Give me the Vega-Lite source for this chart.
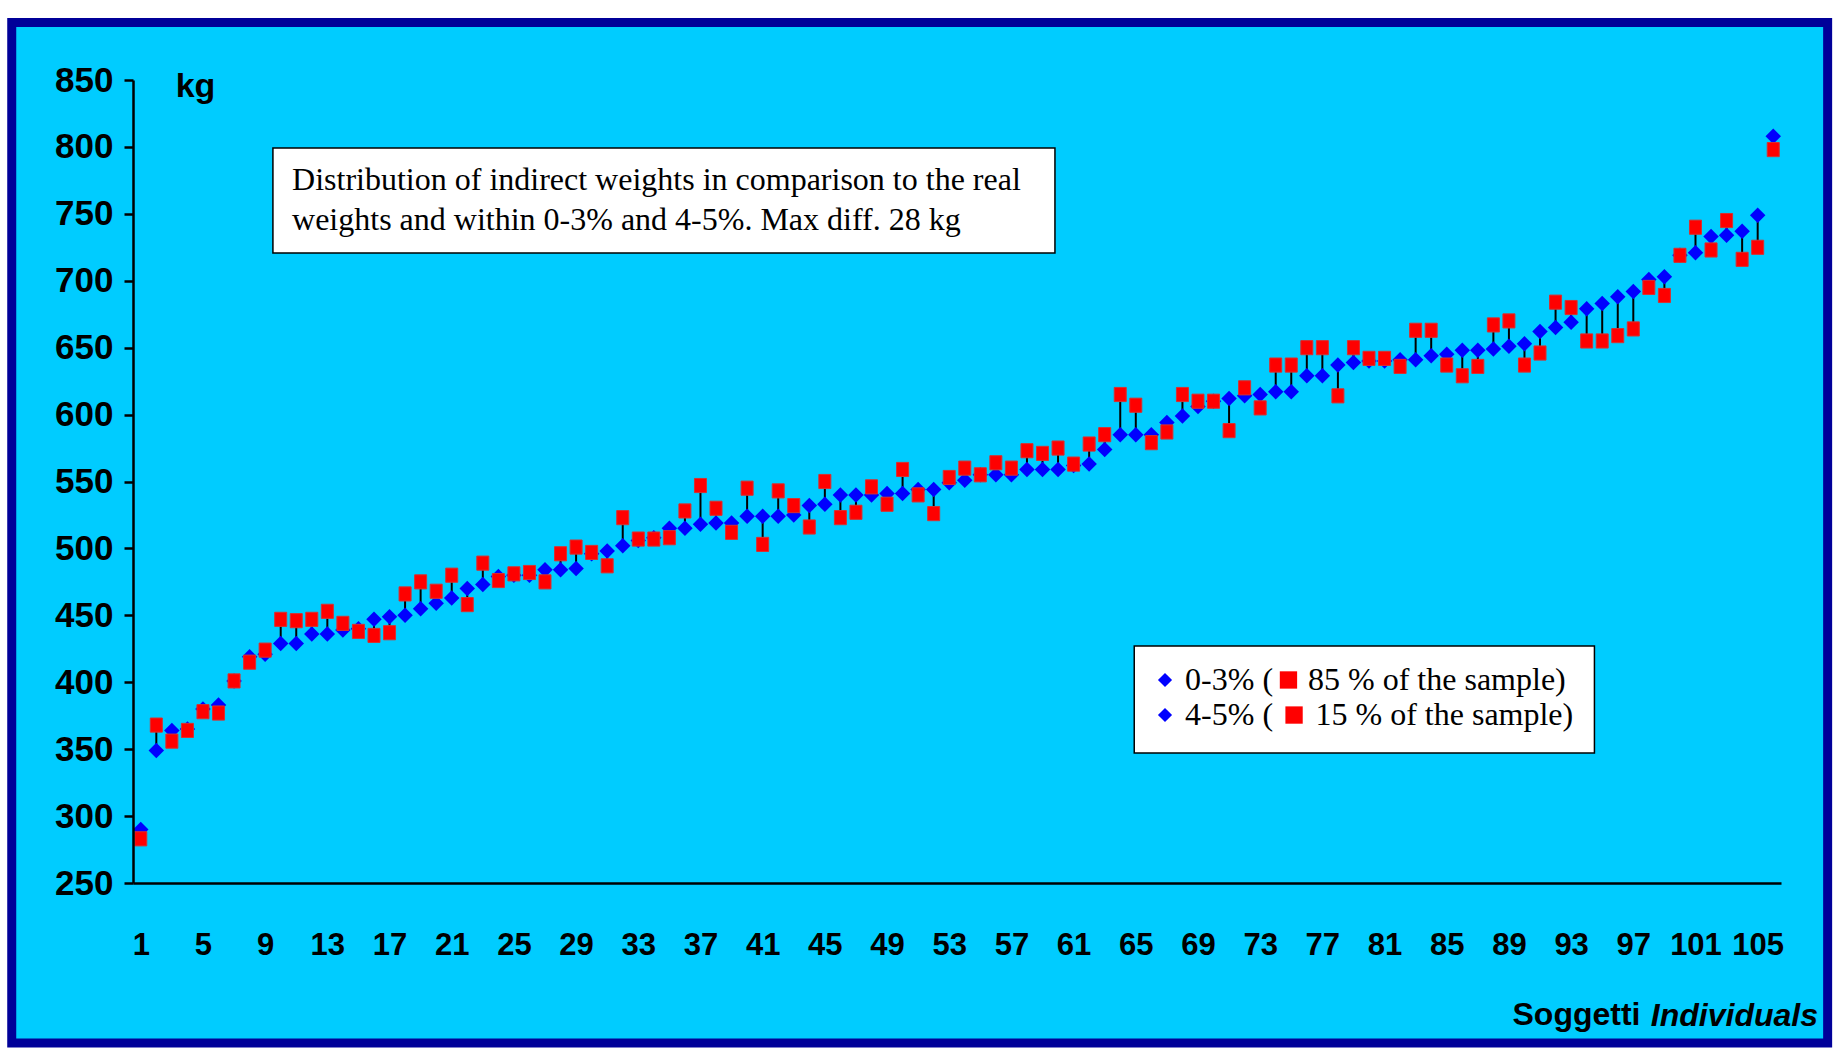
{
  "$schema": "https://vega.github.io/schema/vega-lite/v6.json",
  "width": 1648,
  "height": 803,
  "autosize": {"type": "none"},
  "padding": {"left": 133, "top": 80, "right": 64, "bottom": 169},
  "background": "white",
  "config": {"view": {"stroke": null}, "axis": {"grid": false, "zindex": 1}},
  "title": {"text": "Individuals", "orient": "bottom", "anchor": "end", "frame": "group", "font": "Liberation Sans", "fontSize": 32, "fontWeight": "bold", "fontStyle": "italic", "color": "black", "dx": 37, "dy": -51},
  "data": {"values": [
    {"i":1,"real":290,"indirect":283},{"i":2,"real":349,"indirect":368},{"i":3,"real":364,"indirect":356},{"i":4,"real":365,"indirect":364},
    {"i":5,"real":380,"indirect":378},{"i":6,"real":383,"indirect":377},{"i":7,"real":401,"indirect":401},{"i":8,"real":419,"indirect":415},
    {"i":9,"real":421,"indirect":424},{"i":10,"real":429,"indirect":447},{"i":11,"real":429,"indirect":446},{"i":12,"real":436,"indirect":447},
    {"i":13,"real":436,"indirect":453},{"i":14,"real":439,"indirect":444},{"i":15,"real":440,"indirect":438},{"i":16,"real":447,"indirect":435},
    {"i":17,"real":449,"indirect":437},{"i":18,"real":450,"indirect":466},{"i":19,"real":455,"indirect":475},{"i":20,"real":459,"indirect":468},
    {"i":21,"real":463,"indirect":480},{"i":22,"real":470,"indirect":458},{"i":23,"real":473,"indirect":489},{"i":24,"real":479,"indirect":476},
    {"i":25,"real":480,"indirect":481},{"i":26,"real":480,"indirect":482},{"i":27,"real":484,"indirect":475},{"i":28,"real":484,"indirect":496},
    {"i":29,"real":485,"indirect":501},{"i":30,"real":496,"indirect":497},{"i":31,"real":498,"indirect":487},{"i":32,"real":502,"indirect":523},
    {"i":33,"real":506,"indirect":507},{"i":34,"real":508,"indirect":507},{"i":35,"real":515,"indirect":508},{"i":36,"real":515,"indirect":528},
    {"i":37,"real":518,"indirect":547},{"i":38,"real":519,"indirect":530},{"i":39,"real":519,"indirect":512},{"i":40,"real":524,"indirect":545},
    {"i":41,"real":524,"indirect":503},{"i":42,"real":524,"indirect":543},{"i":43,"real":525,"indirect":532},{"i":44,"real":532,"indirect":516},
    {"i":45,"real":533,"indirect":550},{"i":46,"real":540,"indirect":523},{"i":47,"real":540,"indirect":527},{"i":48,"real":540,"indirect":546},
    {"i":49,"real":541,"indirect":533},{"i":50,"real":541,"indirect":559},{"i":51,"real":544,"indirect":540},{"i":52,"real":544,"indirect":526},
    {"i":53,"real":549,"indirect":553},{"i":54,"real":551,"indirect":560},{"i":55,"real":555,"indirect":555},{"i":56,"real":555,"indirect":564},
    {"i":57,"real":555,"indirect":560},{"i":58,"real":559,"indirect":573},{"i":59,"real":559,"indirect":571},{"i":60,"real":559,"indirect":575},
    {"i":61,"real":562,"indirect":563},{"i":62,"real":563,"indirect":578},{"i":63,"real":574,"indirect":585},{"i":64,"real":585,"indirect":615},
    {"i":65,"real":585,"indirect":607},{"i":66,"real":585,"indirect":579},{"i":67,"real":594,"indirect":587},{"i":68,"real":599,"indirect":615},
    {"i":69,"real":606,"indirect":610},{"i":70,"real":610,"indirect":610},{"i":71,"real":612,"indirect":588},{"i":72,"real":614,"indirect":620},
    {"i":73,"real":615,"indirect":605},{"i":74,"real":617,"indirect":637},{"i":75,"real":617,"indirect":637},{"i":76,"real":629,"indirect":650},
    {"i":77,"real":629,"indirect":650},{"i":78,"real":637,"indirect":614},{"i":79,"real":639,"indirect":650},{"i":80,"real":640,"indirect":642},
    {"i":81,"real":640,"indirect":642},{"i":82,"real":641,"indirect":636},{"i":83,"real":641,"indirect":663},{"i":84,"real":644,"indirect":663},
    {"i":85,"real":645,"indirect":637},{"i":86,"real":648,"indirect":629},{"i":87,"real":648,"indirect":636},{"i":88,"real":649,"indirect":667},
    {"i":89,"real":651,"indirect":670},{"i":90,"real":653,"indirect":637},{"i":91,"real":662,"indirect":646},{"i":92,"real":665,"indirect":684},
    {"i":93,"real":669,"indirect":680},{"i":94,"real":679,"indirect":655},{"i":95,"real":683,"indirect":655},{"i":96,"real":688,"indirect":659},
    {"i":97,"real":692,"indirect":664},{"i":98,"real":701,"indirect":695},{"i":99,"real":703,"indirect":689},{"i":100,"real":719,"indirect":719},
    {"i":101,"real":721,"indirect":740},{"i":102,"real":733,"indirect":723},{"i":103,"real":734,"indirect":745},{"i":104,"real":737,"indirect":716},
    {"i":105,"real":749,"indirect":725},{"i":106,"real":808,"indirect":798}
  ]},
  "layer": [
    {
      "data": {"values": [{}]},
      "mark": {"type": "rect", "fill": "#00CCFF", "stroke": "#000099", "strokeWidth": 9},
      "encoding": {
        "x": {"datum": -7.3, "type": "quantitative", "scale": {"domain": [0.5, 106.5], "nice": false, "zero": false}},
        "x2": {"datum": 109.5},
        "y": {"datum": 893, "type": "quantitative", "scale": {"domain": [250, 850], "nice": false, "zero": false}},
        "y2": {"datum": 130.4}
      }
    },
    {
      "mark": {"type": "rule", "color": "black", "strokeWidth": 2},
      "encoding": {
        "x": {"field": "i", "type": "quantitative", "scale": {"domain": [0.5, 106.5], "nice": false, "zero": false},
          "axis": {"values": [1,5,9,13,17,21,25,29,33,37,41,45,49,53,57,61,65,69,73,77,81,85,89,93,97,101,105],
            "zindex": 2, "ticks": false, "tickSize": 0, "labelFlush": false, "labelOverlap": false,
            "labelFont": "Liberation Sans", "labelFontSize": 31, "labelFontWeight": "bold", "labelColor": "black", "labelPadding": 47,
            "domainColor": "black", "domainWidth": 2.5,
            "title": "Soggetti", "titleFont": "Liberation Sans", "titleFontSize": 32, "titleFontWeight": "bold", "titleColor": "black",
            "titleX": 1379, "titleY": 131, "titleAlign": "left", "titleBaseline": "middle", "titleAngle": 0}},
        "y": {"field": "real", "type": "quantitative", "scale": {"domain": [250, 850], "nice": false, "zero": false},
          "axis": {"values": [250,300,350,400,450,500,550,600,650,700,750,800,850],
            "zindex": 2, "tickSize": 9, "tickWidth": 2.5, "tickColor": "black", "labelFlush": false,
            "labelFont": "Liberation Sans", "labelFontSize": 35, "labelFontWeight": "bold", "labelColor": "black", "labelPadding": 11,
            "domainColor": "black", "domainWidth": 2.5,
            "title": "kg", "titleFont": "Liberation Sans", "titleFontSize": 34, "titleFontWeight": "bold", "titleColor": "black",
            "titleAngle": 0, "titleX": 62, "titleY": 6, "titleAlign": "center", "titleBaseline": "middle"}},
        "y2": {"field": "indirect"}
      }
    },
    {
      "mark": {"type": "point", "filled": true, "shape": "diamond", "size": 240, "color": "#0000FF", "opacity": 1},
      "encoding": {
        "x": {"field": "i", "type": "quantitative"},
        "y": {"field": "real", "type": "quantitative"}
      }
    },
    {
      "mark": {"type": "point", "filled": true, "shape": "M-0.85,-1H0.85V1H-0.85Z", "size": 200, "color": "#FF0000", "opacity": 1, "stroke": "#D83030", "strokeWidth": 1},
      "encoding": {
        "x": {"field": "i", "type": "quantitative"},
        "y": {"field": "indirect", "type": "quantitative"}
      }
    },
    {
      "data": {"values": [{}]},
      "mark": {"type": "rect", "fill": "white", "stroke": "black", "strokeWidth": 1.5},
      "encoding": {
        "x": {"datum": 9.5, "type": "quantitative"},
        "x2": {"datum": 59.8},
        "y": {"datum": 799.2, "type": "quantitative"},
        "y2": {"datum": 720.7}
      }
    },
    {
      "data": {"values": [{}]},
      "mark": {"type": "text", "text": ["Distribution of indirect weights in comparison to the real", "weights and within 0-3% and 4-5%. Max diff. 28 kg"],
        "font": "Liberation Serif", "fontSize": 32, "lineHeight": 40, "align": "left", "baseline": "middle", "color": "black"},
      "encoding": {
        "x": {"datum": 10.73, "type": "quantitative"},
        "y": {"datum": 775.3, "type": "quantitative"}
      }
    },
    {
      "data": {"values": [{}]},
      "mark": {"type": "rect", "fill": "white", "stroke": "black", "strokeWidth": 1.5},
      "encoding": {
        "x": {"datum": 64.9, "type": "quantitative"},
        "x2": {"datum": 94.5},
        "y": {"datum": 427.1, "type": "quantitative"},
        "y2": {"datum": 347.1}
      }
    },
    {
      "data": {"values": [{}]},
      "mark": {"type": "point", "filled": true, "shape": "diamond", "size": 200, "color": "#0000FF", "opacity": 1},
      "encoding": {
        "x": {"datum": 66.88, "type": "quantitative"},
        "y": {"datum": 401.7, "type": "quantitative"}
      }
    },
    {
      "data": {"values": [{}]},
      "mark": {"type": "point", "filled": true, "shape": "diamond", "size": 200, "color": "#0000FF", "opacity": 1},
      "encoding": {
        "x": {"datum": 66.88, "type": "quantitative"},
        "y": {"datum": 375.5, "type": "quantitative"}
      }
    },
    {
      "data": {"values": [{}]},
      "mark": {"type": "point", "filled": true, "shape": "square", "size": 300, "color": "#FF0000", "opacity": 1},
      "encoding": {
        "x": {"datum": 74.82, "type": "quantitative"},
        "y": {"datum": 401.7, "type": "quantitative"}
      }
    },
    {
      "data": {"values": [{}]},
      "mark": {"type": "point", "filled": true, "shape": "square", "size": 300, "color": "#FF0000", "opacity": 1},
      "encoding": {
        "x": {"datum": 75.18, "type": "quantitative"},
        "y": {"datum": 375.5, "type": "quantitative"}
      }
    },
    {
      "data": {"values": [{}]},
      "mark": {"type": "text", "text": "0-3% (", "font": "Liberation Serif", "fontSize": 32, "align": "left", "baseline": "middle", "color": "black"},
      "encoding": {
        "x": {"datum": 68.17, "type": "quantitative"},
        "y": {"datum": 401.7, "type": "quantitative"}
      }
    },
    {
      "data": {"values": [{}]},
      "mark": {"type": "text", "text": "85 % of the sample)", "font": "Liberation Serif", "fontSize": 32, "align": "left", "baseline": "middle", "color": "black"},
      "encoding": {
        "x": {"datum": 76.08, "type": "quantitative"},
        "y": {"datum": 401.7, "type": "quantitative"}
      }
    },
    {
      "data": {"values": [{}]},
      "mark": {"type": "text", "text": "4-5%  (", "font": "Liberation Serif", "fontSize": 32, "align": "left", "baseline": "middle", "color": "black"},
      "encoding": {
        "x": {"datum": 68.17, "type": "quantitative"},
        "y": {"datum": 375.5, "type": "quantitative"}
      }
    },
    {
      "data": {"values": [{}]},
      "mark": {"type": "text", "text": "15 % of the sample)", "font": "Liberation Serif", "fontSize": 32, "align": "left", "baseline": "middle", "color": "black"},
      "encoding": {
        "x": {"datum": 76.56, "type": "quantitative"},
        "y": {"datum": 375.5, "type": "quantitative"}
      }
    }
  ]
}
